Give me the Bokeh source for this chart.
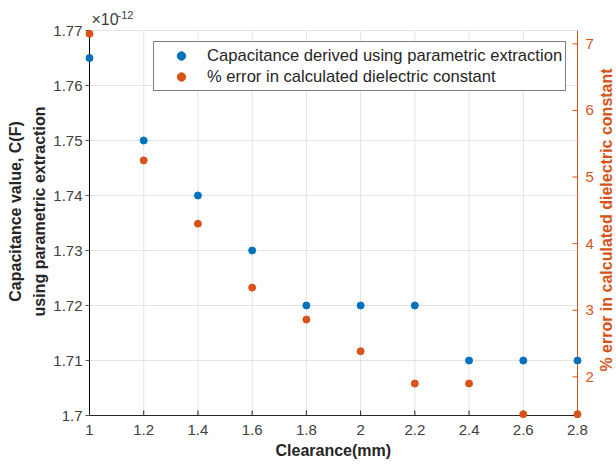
import math
from bokeh.plotting import figure
from bokeh.models import (Range1d, FixedTicker, CustomJSTickFormatter,
                          Legend, LegendItem, Label, Title)
from bokeh.core.properties import value
from bokeh.embed import file_html
from bokeh.resources import INLINE

# ---- data ----
clearance_mm = [1.0, 1.2, 1.4, 1.6, 1.8, 2.0, 2.2, 2.4, 2.6, 2.8]
capacitance_e12 = [1.765, 1.75, 1.74, 1.73, 1.72, 1.72, 1.72, 1.71, 1.71, 1.71]  # x 1e-12 F
error_pct = [7.15, 5.25, 4.30, 3.34, 2.86, 2.385, 1.90, 1.90, 1.44, 1.44]

x_ticks = [1.0, 1.2, 1.4, 1.6, 1.8, 2.0, 2.2, 2.4, 2.6, 2.8]
cap_ticks = [1.70, 1.71, 1.72, 1.73, 1.74, 1.75, 1.76, 1.77]
err_ticks = [2, 3, 4, 5, 6, 7]
err_tick_labels = ["2", "3", "4", "5", "6", "7"]

x_lim = (1.0, 2.8)
cap_lim = (1.70, 1.77)
err_lim = (1.42, 7.2)

x_title = "Clearance(mm)"
left_title = "Capacitance value, C(F)\nusing parametric extraction"
right_title = "% error in calculated dielectric constant"
series_names = ["Capacitance derived using parametric extraction",
                "% error in calculated dielectric constant"]

# ---- style ----
BLUE = "#0072BD"
ORANGE = "#D95319"
DARK = "#262626"
TICKC = "#404040"
GRIDC = "#e3e3e3"
FONT = "Liberation Sans"

AX_W, AX_H = 488, 385          # axes box in px
PAD_L, PAD_R, PAD_B, PAD_T = 5, 39, 5, 28   # frame padding around the axes box (px)


def padded(lim, px, lo_px, hi_px):
    s = (lim[1] - lim[0]) / px
    return Range1d(lim[0] - lo_px * s, lim[1] + hi_px * s)


p = figure(width=616, height=465, output_backend="svg", toolbar_location=None,
           x_range=padded(x_lim, AX_W, PAD_L, PAD_R),
           y_range=padded(cap_lim, AX_H, PAD_B, PAD_T),
           min_border_left=84, min_border_right=0, min_border_top=2, min_border_bottom=45)
p.extra_y_ranges = {"err": padded(err_lim, AX_H, PAD_B, PAD_T)}
p.outline_line_color = None
p.xgrid.visible = False
p.ygrid.visible = False

fmt = "return String(Number(tick.toFixed(2)));"


def style_axis(ax, standoff, label_standoff):
    ax.axis_line_color = None
    ax.major_tick_in = 0
    ax.major_tick_out = 0
    ax.minor_tick_in = 0
    ax.minor_tick_out = 0
    ax.major_label_text_font = FONT
    ax.major_label_text_font_size = "15px"
    ax.major_label_text_color = TICKC
    ax.major_label_standoff = standoff
    ax.axis_label_text_font = FONT
    ax.axis_label_text_font_size = "16px"
    ax.axis_label_text_font_style = "bold"
    ax.axis_label_text_color = DARK
    ax.axis_label_standoff = label_standoff
    ax.formatter = CustomJSTickFormatter(code=fmt)


xa = p.xaxis[0]
xa.ticker = FixedTicker(ticks=x_ticks)
style_axis(xa, 4, 6)

ya = p.yaxis[0]
ya.ticker = FixedTicker(ticks=cap_ticks)
ya.axis_label = left_title
style_axis(ya, 2, 2)
ya.axis_label_text_line_height = 1.4

# x-axis title, centred under the axes box (not under the padded frame)
p.add_layout(Title(text=x_title, align="left", offset=PAD_L + AX_W / 2 - 58, standoff=4,
                   text_font=FONT, text_font_size="16px", text_font_style="bold",
                   text_color=DARK), "below")

# ---- grid ----
nx, ny, ne = len(x_ticks), len(cap_ticks), len(err_ticks)
p.segment(x0=x_ticks, y0=[cap_lim[0]] * nx, x1=x_ticks, y1=[cap_lim[1]] * nx,
          line_color=GRIDC, line_width=1)
p.segment(x0=[x_lim[0]] * ny, y0=cap_ticks, x1=[x_lim[1]] * ny, y1=cap_ticks,
          line_color=GRIDC, line_width=1)

# ---- axis lines and ticks ----
p.segment(x0=[x_lim[0]], y0=[cap_lim[0]], x1=[x_lim[1]], y1=[cap_lim[0]], line_color=DARK, line_width=1)
p.segment(x0=[x_lim[0]], y0=[cap_lim[0]], x1=[x_lim[0]], y1=[cap_lim[1]], line_color="black", line_width=1)
p.segment(x0=[x_lim[1]], y0=[err_lim[0]], x1=[x_lim[1]], y1=[err_lim[1]], line_color=ORANGE,
          line_width=1, y_range_name="err")
p.ray(x=x_ticks, y=[cap_lim[0]] * nx, length=5, length_units="screen", angle=math.pi / 2,
      line_color=DARK, line_width=1)
p.ray(x=[x_lim[0]] * ny, y=cap_ticks, length=4, length_units="screen", angle=math.pi,
      line_color="#555555", line_width=1)
p.ray(x=[x_lim[1]] * ne, y=err_ticks, length=5, length_units="screen", angle=math.pi,
      line_color=ORANGE, line_width=1, y_range_name="err")

# ---- right (error) axis tick labels and title, on the error scale ----
p.text(x=[x_lim[1]] * ne, y=err_ticks, text=err_tick_labels, x_offset=8,
       text_align="left", text_baseline="middle", text_font=value(FONT),
       text_font_size="15px", text_color=ORANGE, y_range_name="err")
p.text(x=[x_lim[1]], y=[(err_lim[0] + err_lim[1]) / 2], text=[right_title], x_offset=29,
       y_offset=-3, angle=math.pi / 2, text_align="center", text_baseline="middle",
       text_font=value(FONT), text_font_size="16px", text_font_style="bold",
       text_color=ORANGE, y_range_name="err")

# ---- data points ----
r_cap = p.scatter(clearance_mm, capacitance_e12, size=7, fill_color=BLUE, line_color=BLUE)
r_err = p.scatter(clearance_mm, error_pct, size=7, fill_color=ORANGE, line_color=ORANGE,
                  y_range_name="err")

# ---- exponent label ----
p.add_layout(Label(x=x_lim[0], y=cap_lim[1], text="\u00d710", x_offset=2, y_offset=3,
                   text_font=FONT, text_font_size="16px", text_color=TICKC, text_baseline="bottom"))
p.add_layout(Label(x=x_lim[0], y=cap_lim[1], text="-12", x_offset=28, y_offset=12,
                   text_font=FONT, text_font_size="11px", text_color=TICKC, text_baseline="bottom"))

# ---- legend ----
legend = Legend(items=[
    LegendItem(label=series_names[0], renderers=[r_cap]),
    LegendItem(label=series_names[1], renderers=[r_err]),
], location=(69, 329), padding=3, spacing=0, margin=0, glyph_width=48,
    glyph_height=21, label_height=21, label_standoff=2, label_text_font=FONT,
    label_text_font_size="16.6px", label_text_color=DARK, border_line_color="black",
    border_line_width=1, background_fill_color="white", background_fill_alpha=1.0)
p.add_layout(legend)

open("out.html", "w").write(file_html(p, INLINE))
